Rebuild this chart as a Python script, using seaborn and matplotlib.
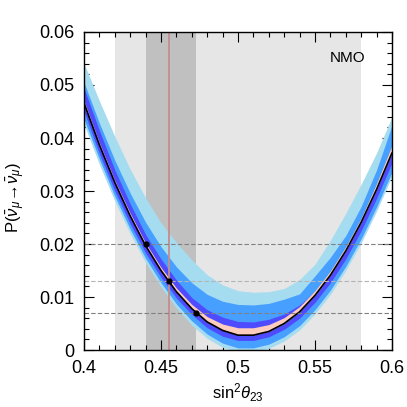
import matplotlib
matplotlib.use("Agg")
import matplotlib.pyplot as plt
import numpy as np
import pandas as pd
import seaborn as sns
from matplotlib.ticker import MultipleLocator

# sin^2(theta_23) grid and band edges
s23 = [0.40, 0.41, 0.42, 0.43, 0.44, 0.45, 0.46, 0.47, 0.48, 0.49, 0.50,
       0.51, 0.52, 0.53, 0.54, 0.55, 0.56, 0.57, 0.58, 0.59, 0.60]
p_central = [0.0466, 0.0387, 0.0316, 0.0253, 0.0197, 0.0150, 0.0110, 0.0078,
             0.0053, 0.0037, 0.0028, 0.0028, 0.0035, 0.0050, 0.0072, 0.0103,
             0.0141, 0.0187, 0.0241, 0.0303, 0.0372]
p_pink_hi = [0.0470, 0.0391, 0.0320, 0.0258, 0.0202, 0.0156, 0.0117, 0.0086,
             0.0063, 0.0049, 0.0042, 0.0042, 0.0048, 0.0061, 0.0082, 0.0112,
             0.0149, 0.0195, 0.0249, 0.0314, 0.0386]
p_viol_hi = [0.0494, 0.0414, 0.0340, 0.0276, 0.0218, 0.0172, 0.0132, 0.0099,
             0.0076, 0.0062, 0.0054, 0.0053, 0.0058, 0.0068, 0.0085, 0.0111,
             0.0147, 0.0192, 0.0246, 0.0308, 0.0378]
p_viol_lo = [0.0450, 0.0370, 0.0300, 0.0238, 0.0183, 0.0137, 0.0098, 0.0067,
             0.0042, 0.0026, 0.0018, 0.0018, 0.0025, 0.0039, 0.0060, 0.0090,
             0.0127, 0.0172, 0.0225, 0.0286, 0.0353]
p_med_hi = [0.0505, 0.0428, 0.0358, 0.0296, 0.0241, 0.0195, 0.0157, 0.0127,
            0.0105, 0.0092, 0.0086, 0.0085, 0.0088, 0.0096, 0.0106, 0.0140,
            0.0175, 0.0216, 0.0271, 0.0340, 0.0424]
p_med_lo = [0.0436, 0.0360, 0.0290, 0.0228, 0.0173, 0.0127, 0.0087, 0.0055,
            0.0030, 0.0013, 0.0004, 0.0004, 0.0011, 0.0025, 0.0046, 0.0076,
            0.0113, 0.0158, 0.0210, 0.0270, 0.0336]
p_light_hi = [0.0541, 0.0470, 0.0403, 0.0341, 0.0287, 0.0240, 0.0203, 0.0170,
              0.0142, 0.0123, 0.0112, 0.0109, 0.0110, 0.0116, 0.0133, 0.0162,
              0.0207, 0.0258, 0.0313, 0.0372, 0.0440]
p_light_lo = [0.0426, 0.0350, 0.0281, 0.0219, 0.0165, 0.0119, 0.0079, 0.0047,
              0.0022, 0.0005, -0.0004, -0.0004, 0.0003, 0.0017, 0.0038, 0.0068,
              0.0105, 0.0150, 0.0202, 0.0262, 0.0328]

# allowed ranges and reference points
range_wide = (0.42, 0.58)
range_narrow = (0.44, 0.473)
s23_best = 0.455
mark_s = [0.440, 0.455, 0.473]
mark_p = [0.020, 0.013, 0.007]
hline_colors = ["#808080", "#b4b4b4", "#808080"]

sns.set_theme(style="ticks")
plt.rcParams["font.family"] = ["Liberation Sans", "DejaVu Sans"]
plt.rcParams.update({
    "mathtext.fontset": "custom",
    "mathtext.rm": "Liberation Sans",
    "mathtext.it": "Liberation Sans:italic",
    "mathtext.bf": "Liberation Sans:bold",
    "text.color": "black",
    "axes.labelcolor": "black",
    "xtick.color": "black",
    "ytick.color": "black",
    "axes.edgecolor": "black",
})

df = pd.DataFrame({"s": s23, "p": p_central})

fig = plt.figure(figsize=(4.07, 4.07), dpi=100)
ax = fig.add_axes([0.2064, 0.140, 0.7567, 0.7814])

ax.axvspan(*range_wide, color="#e6e6e6", lw=0, zorder=0)
ax.axvspan(*range_narrow, color="#c0c0c0", lw=0, zorder=0.5)

ax.fill_between(s23, p_light_lo, p_light_hi, color="#a6dcf0", lw=0, zorder=1)
ax.fill_between(s23, p_med_lo, p_med_hi, color="#47a0ff", lw=0, zorder=2)
ax.fill_between(s23, p_viol_lo, p_viol_hi, color="#4f4cff", lw=0, zorder=3)
ax.fill_between(s23, p_central, p_pink_hi, color="#ffcdbd", lw=0, zorder=4)

sns.lineplot(data=df, x="s", y="p", ax=ax, color="black", lw=1.2, zorder=5)

ax.axvline(s23_best, color="#c48c8c", lw=1.3, zorder=6)
for p, c in zip(mark_p, hline_colors):
    ax.axhline(p, color=c, lw=0.8, ls=(0, (4, 2)), zorder=6)
ax.scatter(mark_s, mark_p, s=12, color="black", zorder=7)

ax.text(0.571, 0.0551, "NMO", fontsize=11, ha="center", va="center")

ax.set_xlim(0.4, 0.6)
ax.set_ylim(0, 0.06)
ax.xaxis.set_major_locator(MultipleLocator(0.05))
ax.xaxis.set_minor_locator(MultipleLocator(0.01))
ax.yaxis.set_major_locator(MultipleLocator(0.01))
ax.yaxis.set_minor_locator(MultipleLocator(0.002))
ax.set_xticks([0.4, 0.45, 0.5, 0.55, 0.6])
ax.set_xticklabels(["0.4", "0.45", "0.5", "0.55", "0.6"])
ax.set_yticks([0, 0.01, 0.02, 0.03, 0.04, 0.05, 0.06])
ax.set_yticklabels(["0", "0.01", "0.02", "0.03", "0.04", "0.05", "0.06"])
ax.tick_params(which="both", direction="in", top=True, right=True,
               labelsize=13, pad=7, colors="black")
ax.tick_params(which="major", length=7, width=0.8)
ax.tick_params(which="minor", length=3.5, width=0.8)
for sp in ax.spines.values():
    sp.set_linewidth(1.0)
    sp.set_zorder(10)

ax.set_xlabel(r"sin$^2\theta_{23}$", fontsize=12, labelpad=3)
ax.set_ylabel(r"P($\bar{\nu}_\mu\!\rightarrow\!\bar{\nu}_\mu$)", fontsize=12)
ax.yaxis.set_label_coords(-0.185, 0.48)

fig.savefig("out.png", dpi=100, facecolor="white")
